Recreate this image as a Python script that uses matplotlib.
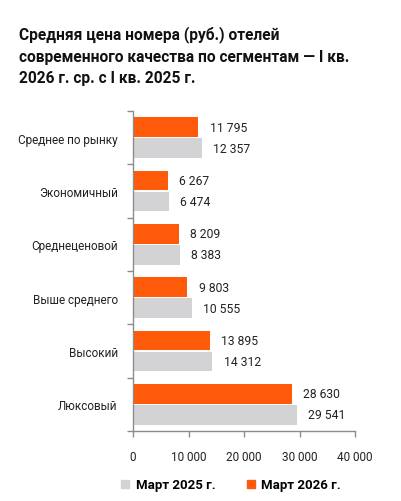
import matplotlib
matplotlib.use("Agg")
import matplotlib.pyplot as plt
import numpy as np

categories = ["Среднее по рынку", "Экономичный", "Среднеценовой", "Выше среднего", "Высокий", "Люксовый"]
values_2026 = [11795, 6267, 8209, 9803, 13895, 28630]
values_2025 = [12357, 6474, 8383, 10555, 14312, 29541]
xticks = [0, 10000, 20000, 30000, 40000]
xtick_labels = ["0", "10 000", "20 000", "30 000", "40 000"]
title = "Средняя цена номера (руб.) отелей\nсовременного качества по сегментам — I кв.\n2026 г. ср. с I кв. 2025 г."
legend_labels = ["Март 2025 г.", "Март 2026 г."]

ORANGE = "#FF5A0A"
GREY = "#D3D3D5"
AXC = "#8C8C8C"

plt.rcParams['font.family'] = ['Roboto', 'DejaVu Sans']

fig = plt.figure(figsize=(4.01, 5.02), dpi=100)
ax = fig.add_axes([133/401, 1-432/502, (355-133)/401, (432-112)/502])

y = np.arange(len(categories))
h = 0.37
ax.barh(y - h/2 - 0.01, values_2026, height=h, color=ORANGE)
ax.barh(y + h/2 + 0.01, values_2025, height=h, color=GREY)

def fmt(v):
    return f"{v:,}".replace(",", " ")

for yi, v in zip(y, values_2026):
    ax.text(v + 2000, yi - h/2 - 0.01, fmt(v), va="center", ha="left", fontsize=8.7, color="#222222")
for yi, v in zip(y, values_2025):
    ax.text(v + 2000, yi + h/2 + 0.01, fmt(v), va="center", ha="left", fontsize=8.7, color="#222222")

ax.set_xlim(0, 40000)
ax.set_ylim(len(categories) - 0.5, -0.5)
ax.set_xticks(xticks)
ax.set_xticklabels(xtick_labels, fontsize=8.5, color="#222222")
ax.set_yticks(y)
ax.set_yticklabels(categories, fontsize=8.5, color="#222222")
ax.tick_params(axis="y", which="major", length=0, pad=11)
ax.set_yticks(np.arange(-0.5, len(categories) + 0.5, 1), minor=True)
ax.tick_params(axis="y", which="minor", length=4, color=AXC, width=1)
ax.tick_params(axis="x", length=4, color=AXC, width=1, pad=10)

for s in ["top", "right"]:
    ax.spines[s].set_visible(False)
for s in ["left", "bottom"]:
    ax.spines[s].set_color(AXC)
    ax.spines[s].set_linewidth(1)

fig.text(19/401, 1-26/502, title, fontsize=11.2, fontweight="bold", va="top", ha="left",
         color="#111111", linespacing=1.55)

# legend
from matplotlib.patches import Patch
handles = [Patch(color=GREY), Patch(color=ORANGE)]
leg = fig.legend(handles, legend_labels, loc="center", bbox_to_anchor=(231/401, 1-486/502),
                 ncol=2, frameon=False, handlelength=0.6, handleheight=0.6, columnspacing=2.4,
                 handletextpad=0.5, prop={"size": 9.5, "weight": "bold"})

fig.savefig("out.png", dpi=100)
